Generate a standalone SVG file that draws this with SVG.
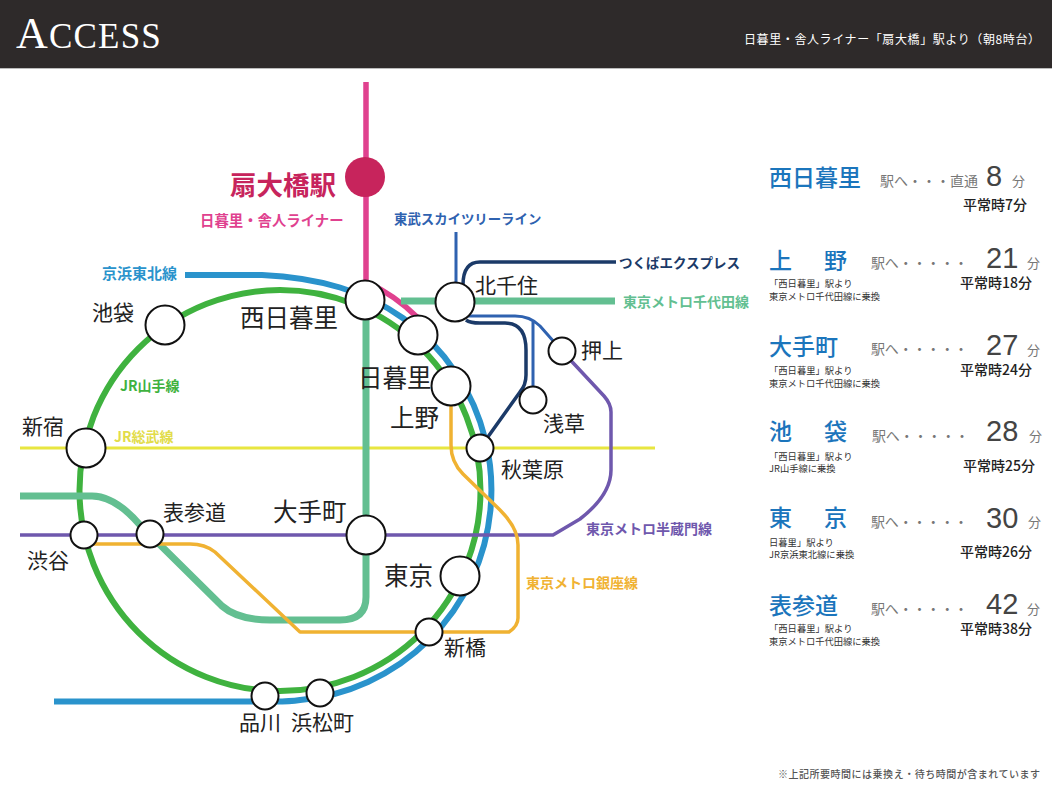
<svg xmlns="http://www.w3.org/2000/svg" width="1052" height="789" viewBox="0 0 1052 789">
<style>
text{font-family:"Noto Sans CJK JP","Noto Sans",sans-serif}
.ln{fill:none;stroke-linejoin:round}
.st circle,circle.s{fill:#fff;stroke:#111;stroke-width:2}
.big{font-size:24.5px;fill:#222;font-weight:400}
.mid{font-size:21px;fill:#222;font-weight:400}
.lb{font-weight:700}
.ttl{font-size:23px;fill:#1b75bc;font-weight:500}
.to{font-size:14px;fill:#777}
.num{font-family:"Liberation Sans",sans-serif;font-size:29px;fill:#444}
.fun{font-size:13px;fill:#777}
.nor{font-size:14px;fill:#222;font-weight:500}
.sm{font-size:9.3px;fill:#333}
</style>
<rect width="1052" height="68" fill="#2e2a2a"/>
<rect y="68" width="1052" height="1" fill="#bbb"/>
<text x="16" y="47.5" fill="#fff" style="font-family:'Liberation Serif',serif;font-size:44px;letter-spacing:1.2px">A<tspan font-size="35">CCESS</tspan></text>
<text x="744" y="44" fill="#fff" font-size="12" textLength="296">日暮里・舎人ライナー「扇大橋」駅より（朝8時台）</text>
<g id="connectors">
<path class="ln" stroke="#2a93cc" stroke-width="6" d="M185 275H262Q305 277 340 287.5A211 211 0 0 1 300 700Q290 701.5 275 701.5H54"/>
<circle class="ln" stroke="#3fb23f" stroke-width="6" cx="280" cy="490.5" r="200.5"/>
<path class="ln" stroke="#e0418f" stroke-width="5.5" d="M366 82V300M366 282Q395 295 418 318"/>
<path class="ln" stroke="#e8e640" stroke-width="3" d="M20 448H655"/>
<path class="ln" stroke="#63bf91" stroke-width="7" d="M366 301V597Q366 620 340 620H270Q238 620 222 606L140 525Q115 496 92 496H20M401 301H615"/>
<path class="ln" stroke="#6f58ad" stroke-width="3.5" d="M20 535H553L580 519Q611 495 611 470V412Q611 404 604 396L562 351"/>
<path class="ln" stroke="#f0b232" stroke-width="3.5" d="M451 386V445Q451 462 463 474L500 510Q518 528 518 545V618Q518 626 509 632H300L215 552Q205 544 190 544H84"/>
<path class="ln" stroke="#2f62b0" stroke-width="3" d="M456 232V302M468 316H515Q530 316 540 326L562 351M533 320V400"/>
<path class="ln" stroke="#1b3a68" stroke-width="3.5" d="M616 262H480Q463 262 463 285V300M466 320Q470 323 480 323H505Q526 323 526 350V375Q526 385 520 392L480 448"/>
</g>
<g id="n-ogi" class="st"><circle cx="365" cy="177" r="20" style="fill:#c7245c;stroke:none"/><text x="230" y="195" font-size="26.5" font-weight="700" fill="#c7245c">扇大橋駅</text></g>
<g id="n-nishinippori" class="st"><circle cx="365" cy="300" r="19.5"/><text class="big" x="240" y="327">西日暮里</text></g>
<g id="n-nippori" class="st"><circle cx="418" cy="335" r="19.5"/><text class="big" x="358" y="387">日暮里</text></g>
<g id="n-ueno" class="st"><circle cx="451" cy="386" r="19.5"/><text class="big" x="390" y="427">上野</text></g>
<g id="n-kitasenju" class="st"><circle cx="455" cy="302" r="19.5"/><text class="mid" x="475" y="293">北千住</text></g>
<g id="n-akihabara" class="st"><circle cx="480" cy="448" r="13.5"/><text class="mid" x="501" y="477">秋葉原</text></g>
<g id="n-asakusa" class="st"><circle cx="533" cy="400" r="13.5"/><text class="mid" x="543" y="431">浅草</text></g>
<g id="n-oshiage" class="st"><circle cx="562" cy="351" r="13.5"/><text class="mid" x="581" y="358">押上</text></g>
<g id="n-ikebukuro" class="st"><circle cx="165" cy="325" r="19.5"/><text class="mid" x="92" y="320">池袋</text></g>
<g id="n-shinjuku" class="st"><circle cx="86" cy="448" r="19.5"/><text class="mid" x="22" y="434">新宿</text></g>
<g id="n-shibuya" class="st"><circle cx="84" cy="535" r="13.5"/><text class="mid" x="27" y="568">渋谷</text></g>
<g id="n-omotesando" class="st"><circle cx="150" cy="534" r="13.5"/><text class="mid" x="163" y="520">表参道</text></g>
<g id="n-otemachi" class="st"><circle cx="366" cy="535" r="19.5"/><text class="big" x="273" y="521">大手町</text></g>
<g id="n-tokyo" class="st"><circle cx="460" cy="576" r="19.5"/><text class="big" x="384" y="585">東京</text></g>
<g id="n-shinbashi" class="st"><circle cx="429" cy="632" r="13.5"/><text class="mid" x="444" y="655">新橋</text></g>
<g id="n-shinagawa" class="st"><circle cx="265" cy="696" r="13.5"/><text class="mid" x="239" y="730">品川</text></g>
<g id="n-hamamatsucho" class="st"><circle cx="320" cy="693" r="13.5"/><text class="mid" x="291" y="730">浜松町</text></g>
<g id="line-labels" class="lb">
<text x="200" y="226" font-size="14.4" fill="#e0418f" font-weight="700">日暮里・舎人ライナー</text>
<text x="394" y="224" font-size="13.4" fill="#2f62b0" font-weight="700">東武スカイツリーライン</text>
<text x="102" y="279" font-size="15" fill="#2a93cc" font-weight="700">京浜東北線</text>
<text x="120" y="391" font-size="14" fill="#3fb23f" font-weight="700">JR山手線</text>
<text x="114" y="442" font-size="14" fill="#e2dc4a" font-weight="700">JR総武線</text>
<text x="619" y="268" font-size="13.5" fill="#1b3a68" font-weight="700">つくばエクスプレス</text>
<text x="623" y="307" font-size="14" fill="#63bf91" font-weight="700">東京メトロ千代田線</text>
<text x="586" y="534" font-size="14" fill="#6f58ad" font-weight="700">東京メトロ半蔵門線</text>
<text x="526" y="588" font-size="14" fill="#f0b232" font-weight="700">東京メトロ銀座線</text>
</g>
<g id="times">
<text class="ttl" x="769" y="186" textLength="92">西日暮里</text>
<text class="to" x="880" y="186" textLength="98">駅へ・・・直通</text>
<text class="num" x="986" y="186">8</text><text class="fun" x="1012" y="186">分</text>
<text class="nor" x="963" y="210">平常時7分</text>

<text class="ttl" x="769" y="269" textLength="78">上　野</text>
<text class="to" x="871" y="268" textLength="97">駅へ・・・・・</text>
<text class="num" x="986" y="268">21</text><text class="fun" x="1027" y="268">分</text>
<text class="nor" x="960" y="288">平常時18分</text>
<text class="sm" x="769" y="287">「西日暮里」駅より</text>
<text class="sm" x="769" y="300" textLength="111">東京メトロ千代田線に乗換</text>

<text class="ttl" x="769" y="355" textLength="69">大手町</text>
<text class="to" x="871" y="354" textLength="97">駅へ・・・・・</text>
<text class="num" x="986" y="355">27</text><text class="fun" x="1027" y="355">分</text>
<text class="nor" x="960" y="375">平常時24分</text>
<text class="sm" x="769" y="374">「西日暮里」駅より</text>
<text class="sm" x="769" y="387" textLength="111">東京メトロ千代田線に乗換</text>

<text class="ttl" x="769" y="440" textLength="78">池　袋</text>
<text class="to" x="872" y="441" textLength="97">駅へ・・・・・</text>
<text class="num" x="986" y="441">28</text><text class="fun" x="1029" y="441">分</text>
<text class="nor" x="963" y="471">平常時25分</text>
<text class="sm" x="769" y="460">「西日暮里」駅より</text>
<text class="sm" x="769" y="472">JR山手線に乗換</text>

<text class="ttl" x="769" y="526" textLength="78">東　京</text>
<text class="to" x="871" y="527" textLength="97">駅へ・・・・・</text>
<text class="num" x="986" y="528">30</text><text class="fun" x="1028" y="527">分</text>
<text class="nor" x="960" y="557">平常時26分</text>
<text class="sm" x="769" y="546">日暮里」駅より</text>
<text class="sm" x="769" y="558">JR京浜東北線に乗換</text>

<text class="ttl" x="769" y="614" textLength="69">表参道</text>
<text class="to" x="871" y="614" textLength="97">駅へ・・・・・</text>
<text class="num" x="986" y="614">42</text><text class="fun" x="1027" y="614">分</text>
<text class="nor" x="960" y="634">平常時38分</text>
<text class="sm" x="769" y="632">「西日暮里」駅より</text>
<text class="sm" x="769" y="645" textLength="111">東京メトロ千代田線に乗換</text>
</g>
<text x="778" y="778" font-size="10" fill="#555" font-weight="500" textLength="262">※上記所要時間には乗換え・待ち時間が含まれています</text>
</svg>
